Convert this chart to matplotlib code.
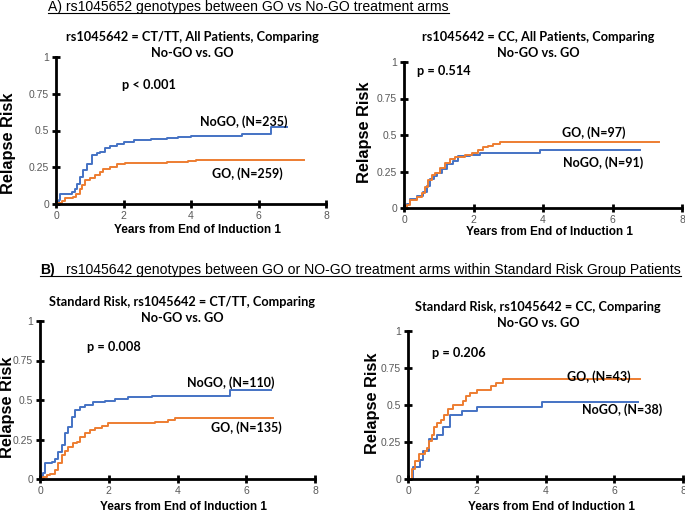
import matplotlib
matplotlib.use("Agg")
import matplotlib.pyplot as plt
from matplotlib.lines import Line2D

W, H = 685, 512

# panel A, left: CT/TT all patients
a1_nogo_t = [0, 0.08, 0.12, 0.46, 0.56, 0.62, 0.71, 0.81, 0.91, 1.06, 1.2, 1.3, 1.45, 1.6, 1.8, 2.0, 2.3, 2.8, 3.3, 3.6, 4.0, 5.5, 6.38, 6.83]
a1_nogo_v = [0, 0.03, 0.07, 0.08, 0.105, 0.135, 0.185, 0.23, 0.275, 0.33, 0.345, 0.355, 0.38, 0.395, 0.41, 0.42, 0.435, 0.44, 0.447, 0.457, 0.462, 0.478, 0.527, 0.527]
a1_go_t = [0, 0.07, 0.17, 0.27, 0.5, 0.6, 0.7, 0.76, 0.86, 1.0, 1.16, 1.3, 1.4, 1.6, 1.8, 2.05, 3.3, 3.9, 4.15, 7.35]
a1_go_v = [0, 0.01, 0.023, 0.04, 0.05, 0.07, 0.1, 0.13, 0.16, 0.18, 0.195, 0.22, 0.235, 0.255, 0.27, 0.28, 0.285, 0.295, 0.3, 0.3]

# panel A, right: CC all patients
a2_nogo_t = [0, 0.08, 0.17, 0.36, 0.55, 0.65, 0.75, 0.85, 0.95, 1.1, 1.25, 1.4, 1.56, 1.9, 2.19, 3.91, 6.79]
a2_nogo_v = [0, 0.03, 0.06, 0.08, 0.11, 0.15, 0.2, 0.22, 0.24, 0.27, 0.3, 0.32, 0.355, 0.36, 0.38, 0.395, 0.395]
a2_go_t = [0, 0.08, 0.17, 0.36, 0.51, 0.6, 0.7, 0.8, 0.89, 1.04, 1.18, 1.32, 1.47, 1.75, 1.95, 2.14, 2.28, 2.43, 2.57, 2.76, 7.33]
a2_go_v = [0, 0.02, 0.055, 0.078, 0.1, 0.146, 0.19, 0.226, 0.242, 0.272, 0.306, 0.333, 0.347, 0.363, 0.379, 0.4, 0.415, 0.427, 0.438, 0.452, 0.452]

# panel B, left: standard risk CT/TT
b1_nogo_t = [0, 0.1, 0.15, 0.34, 0.44, 0.53, 0.63, 0.73, 0.82, 0.92, 1.02, 1.16, 1.31, 1.55, 1.89, 2.18, 2.57, 3.25, 5.52, 6.73]
b1_nogo_v = [0, 0.04, 0.1, 0.11, 0.124, 0.173, 0.215, 0.29, 0.33, 0.395, 0.437, 0.458, 0.468, 0.487, 0.496, 0.506, 0.52, 0.527, 0.565, 0.565]
b1_go_t = [0, 0.1, 0.19, 0.29, 0.44, 0.53, 0.63, 0.73, 0.82, 0.97, 1.07, 1.16, 1.31, 1.45, 1.6, 1.79, 1.99, 3.34, 3.73, 3.92, 6.77]
b1_go_v = [0, 0.015, 0.025, 0.032, 0.057, 0.1, 0.15, 0.18, 0.2, 0.226, 0.236, 0.268, 0.289, 0.31, 0.325, 0.335, 0.356, 0.363, 0.373, 0.388, 0.388]

# panel B, right: standard risk CC
b2_nogo_t = [0, 0.15, 0.35, 0.45, 0.6, 0.85, 1.03, 1.22, 1.56, 2.0, 3.89, 6.7]
b2_nogo_v = [0, 0.08, 0.13, 0.19, 0.27, 0.3, 0.35, 0.43, 0.46, 0.485, 0.52, 0.52]
b2_go_t = [0, 0.12, 0.2, 0.32, 0.5, 0.55, 0.6, 0.7, 0.75, 0.85, 0.95, 1.05, 1.15, 1.3, 1.6, 1.7, 1.8, 2.0, 2.4, 2.55, 2.75, 6.75]
b2_go_v = [0, 0.07, 0.12, 0.17, 0.19, 0.21, 0.26, 0.3, 0.35, 0.38, 0.4, 0.43, 0.47, 0.5, 0.53, 0.56, 0.58, 0.6, 0.63, 0.65, 0.675, 0.675]

x_ticks = [0, 2, 4, 6, 8]
y_ticks = [0, 0.25, 0.5, 0.75, 1]
y_tick_labels = ["0", "0.25", "0.5", "0.75", "1"]

BLUE = "#4472C4"
ORANGE = "#ED7D31"
TITLE_FONT = "Lato"
ARIAL = "Liberation Sans"

fig = plt.figure(figsize=(W / 100, H / 100), dpi=100)


def fx(px):
    return px / W


def fy(py):
    return 1 - py / H


def make_panel(box, title, title_cx, title_y, p_text, p_pos, curves, xlab_y, ylab_xy):
    left, top, right, bottom = box
    ax = fig.add_axes([fx(left), fy(bottom), fx(right) - fx(left), (bottom - top) / H])
    for t, v, color in curves:
        ax.plot(t, v, drawstyle="steps-post", color=color, lw=1.4)
    ax.set_xlim(0, 8)
    ax.set_ylim(0, 1)
    ax.set_xticks(x_ticks)
    ax.set_yticks(y_ticks)
    ax.set_yticklabels(y_tick_labels)
    for s in ["top", "right"]:
        ax.spines[s].set_visible(False)
    for s in ["left", "bottom"]:
        ax.spines[s].set_linewidth(2)
        ax.spines[s].set_clip_on(False)
    ax.tick_params(direction="inout", length=6, width=2, labelsize=7.5,
                   labelcolor="#595959", pad=2)
    for lab in ax.get_xticklabels() + ax.get_yticklabels():
        lab.set_family(ARIAL)
    ax.patch.set_alpha(0)

    line1, line2 = title.split("\n")
    fig.text(fx(title_cx), fy(title_y[0]), line1, ha="center", va="center",
             family=TITLE_FONT, weight="bold", fontsize=9.2)
    fig.text(fx(title_cx), fy(title_y[1]), line2, ha="center", va="center",
             family=TITLE_FONT, weight="bold", fontsize=9.2)
    fig.text(fx(p_pos[0]), fy(p_pos[1]), p_text, ha="left", va="center",
             family=TITLE_FONT, weight="bold", fontsize=9.2)
    fig.text(fx((left + right) / 2 + 6), fy(xlab_y), "Years from End of Induction 1",
             ha="center", va="center", family=ARIAL, weight="bold", fontsize=8.5)
    fig.text(fx(ylab_xy[0]), fy(ylab_xy[1]), "Relapse Risk", ha="center", va="center",
             rotation=90, family=ARIAL, weight="bold", fontsize=11.8)
    return ax


def curve_label(x, y, s):
    fig.text(fx(x), fy(y), s, ha="left", va="center", family=TITLE_FONT,
             weight="bold", fontsize=9)


make_panel((56, 57, 326, 204), "rs1045642 = CT/TT, All Patients, Comparing\nNo-GO vs. GO",
           192, (37, 53), "p < 0.001", (122, 85),
           [(a1_nogo_t, a1_nogo_v, BLUE), (a1_go_t, a1_go_v, ORANGE)], 230, (9, 143))
make_panel((404, 62, 682, 208), "rs1045642 = CC, All Patients, Comparing\nNo-GO vs. GO",
           538, (37, 53), "p = 0.514", (417, 71),
           [(a2_nogo_t, a2_nogo_v, BLUE), (a2_go_t, a2_go_v, ORANGE)], 232, (365, 132))
make_panel((40, 321, 315, 479), "Standard Risk, rs1045642 = CT/TT, Comparing\nNo-GO vs. GO",
           182, (302, 318), "p = 0.008", (87, 347),
           [(b1_nogo_t, b1_nogo_v, BLUE), (b1_go_t, b1_go_v, ORANGE)], 507, (8, 407))
make_panel((408, 331, 683, 479), "Standard Risk, rs1045642 = CC, Comparing\nNo-GO vs. GO",
           538, (307, 323), "p = 0.206", (432, 353),
           [(b2_nogo_t, b2_nogo_v, BLUE), (b2_go_t, b2_go_v, ORANGE)], 507, (372, 403))

curve_label(200, 122, "NoGO, (N=235)")
curve_label(212, 174, "GO, (N=259)")
curve_label(562, 133, "GO, (N=97)")
curve_label(563, 163, "NoGO, (N=91)")
curve_label(187, 383, "NoGO, (N=110)")
curve_label(211, 428, "GO, (N=135)")
curve_label(567, 377, "GO, (N=43)")
curve_label(582, 410, "NoGO, (N=38)")

# section headers (underlined)
hA = fig.text(fx(48), fy(7), "A) rs1045652 genotypes between GO vs No-GO treatment arms",
              ha="left", va="center", family=ARIAL, fontsize=10.1)
hB1 = fig.text(fx(40), fy(270), "B)", ha="left", va="center", family=ARIAL,
               weight="bold", fontsize=10.1)
hB2 = fig.text(fx(66), fy(270), "rs1045642 genotypes between GO or NO-GO treatment arms within Standard Risk Group Patients",
               ha="left", va="center", family=ARIAL, fontsize=10.1)

fig.canvas.draw()
r = fig.canvas.get_renderer()
for a, b in [(hA, hA), (hB1, hB2)]:
    ea = a.get_window_extent(r)
    eb = b.get_window_extent(r)
    yline = ea.y0 + 1
    fig.add_artist(Line2D([ea.x0 / W, eb.x1 / W], [yline / H, yline / H],
                          color="black", lw=0.8))

fig.savefig("out.png", dpi=100)
